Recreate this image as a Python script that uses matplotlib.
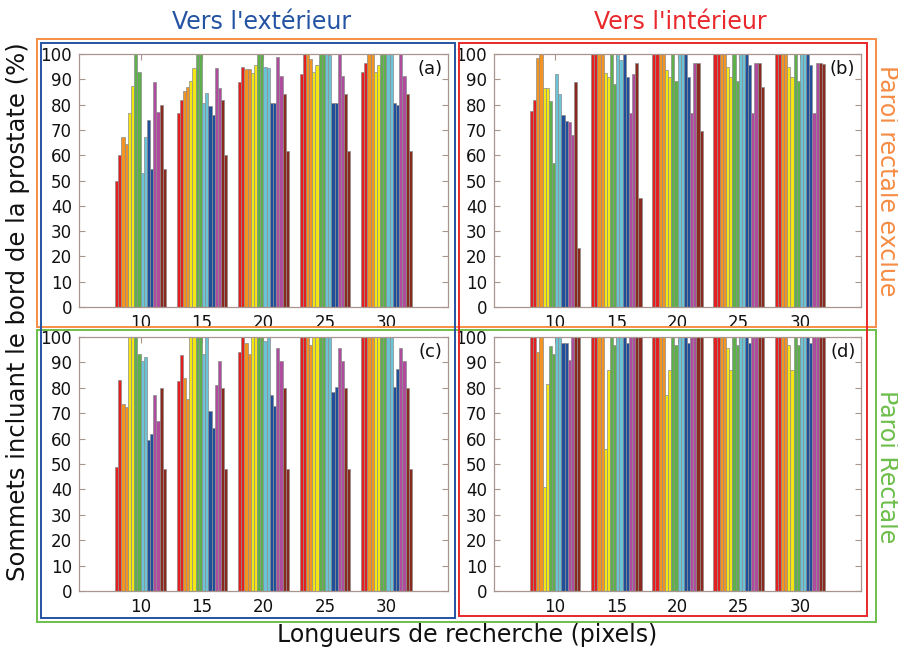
import matplotlib
matplotlib.use("Agg")
import matplotlib.pyplot as plt
from matplotlib.patches import Rectangle
import numpy as np

GROUPS = [10, 15, 20, 25, 30]

BAR_COLORS = [
    "#E3201F", "#E3201F", "#F39322", "#F39322", "#F4E615", "#F4E615",
    "#5DB04A", "#5DB04A", "#6BC4D5", "#6BC4D5", "#1F4E9A", "#1F4E9A",
    "#B04C9E", "#B04C9E", "#8A2A1F", "#8A2A1F",
]

# one row per search length, 16 bars per group
VALS_A = [
    [50, 60, 67, 64.5, 76.5, 87.5, 100, 93, 53, 67, 74, 54.5, 89, 77, 80, 54.5],
    [76.5, 82, 85.5, 87, 89.5, 94.5, 100, 100, 80.5, 84.5, 79.5, 76, 94.5, 86.5, 82, 60],
    [89, 95, 94, 94, 92.5, 95.5, 100, 100, 95, 94.5, 80.5, 80.5, 99, 91.5, 84, 61.5],
    [92, 100, 100, 98, 93, 95.5, 100, 100, 100, 99.5, 80.5, 80.5, 100, 91.5, 84, 61.5],
    [93, 96.5, 100, 100, 93, 95.5, 100, 100, 100, 100, 80.5, 80, 100, 91.5, 84, 61.5],
]
VALS_B = [
    [77.5, 82, 98.5, 100, 86.5, 86.5, 81.5, 57, 92, 84, 76, 73.5, 73, 68, 89, 23.5],
    [100, 100, 100, 100, 92.5, 91, 100, 88, 100, 97.5, 100, 91, 76.5, 92, 96.5, 43],
    [100, 100, 100, 100, 93.5, 91, 100, 89.5, 100, 100, 100, 91, 76.5, 96.5, 96.5, 69.5],
    [100, 100, 100, 100, 95, 91, 100, 89.5, 100, 100, 100, 95.5, 76.5, 96.5, 96.5, 87],
    [100, 100, 100, 100, 95, 91, 100, 89.5, 100, 100, 100, 95.5, 76.5, 96.5, 96.5, 96],
]
VALS_C = [
    [49, 83, 73.5, 72.5, 100, 100, 100, 93.5, 90.5, 92, 59.5, 62, 77, 67, 80, 48],
    [82.5, 93, 84, 75.5, 100, 100, 100, 100, 93.5, 100, 71, 64, 81, 90.5, 80, 48],
    [94, 100, 97.5, 93.5, 100, 100, 100, 100, 98.5, 100, 77, 73, 95.5, 90.5, 80, 48],
    [100, 100, 100, 97, 100, 100, 100, 100, 100, 100, 78.5, 80.5, 95.5, 90.5, 80, 48],
    [100, 100, 100, 100, 100, 100, 100, 100, 100, 100, 80.5, 87.5, 95.5, 90.5, 80, 48],
]
VALS_D = [
    [100, 100, 94, 100, 41, 81.5, 96.5, 93.5, 100, 100, 97.5, 97.5, 91, 100, 100, 100],
    [100, 100, 100, 100, 56, 87, 100, 97, 100, 100, 100, 97.5, 100, 100, 100, 100],
    [100, 100, 100, 100, 77, 87, 100, 97, 100, 100, 100, 97.5, 100, 100, 100, 100],
    [100, 100, 100, 100, 95.5, 87, 100, 97, 100, 100, 100, 97.5, 100, 100, 100, 100],
    [100, 100, 100, 100, 97, 87, 100, 97, 100, 100, 100, 97.5, 100, 100, 100, 100],
]

W, H = 898, 648
SPINE = "#A8958E"


def fx(px):
    return px / W


def fy(py):
    return 1 - py / H


def draw_panel(ax, vals, tag):
    vals = np.array(vals)
    n = vals.shape[1]
    group_w = 4.13
    bw = group_w / n
    for i in range(n):
        xs = np.array(GROUPS) - group_w / 2 + bw * (i + 0.5)
        ax.bar(xs, vals[:, i], width=bw, color=BAR_COLORS[i],
               edgecolor="#8c8c8c", linewidth=0.5, zorder=2)
    ax.set_xlim(5, 35)
    ax.set_ylim(0, 100)
    ax.set_xticks(GROUPS)
    ax.set_yticks(range(0, 101, 10))
    ax.tick_params(direction="in", top=True, right=True, length=4,
                   color=SPINE, labelsize=12, labelcolor="#111111", pad=5)
    for s in ax.spines.values():
        s.set_edgecolor(SPINE)
        s.set_linewidth(0.9)
    ax.text(0.985, 0.975, tag, transform=ax.transAxes, ha="right", va="top",
            fontsize=13, color="#111111", zorder=5)


fig = plt.figure(figsize=(W / 100, H / 100), dpi=100)
fig.patch.set_facecolor("white")

ax_a = fig.add_axes([fx(79), fy(307), fx(448 - 79), (307 - 54) / H])
ax_b = fig.add_axes([fx(494), fy(307), fx(861 - 494), (307 - 54) / H])
ax_c = fig.add_axes([fx(79), fy(591), fx(448 - 79), (591 - 337) / H])
ax_d = fig.add_axes([fx(494), fy(591), fx(861 - 494), (591 - 337) / H])

draw_panel(ax_a, VALS_A, "(a)")
draw_panel(ax_b, VALS_B, "(b)")
draw_panel(ax_c, VALS_C, "(c)")
draw_panel(ax_d, VALS_D, "(d)")


def frame(x0, y0, x1, y1, color, lw=1.4):
    fig.add_artist(Rectangle((fx(x0), fy(y1)), fx(x1 - x0), (y1 - y0) / H,
                             fill=False, edgecolor=color, linewidth=lw,
                             transform=fig.transFigure, zorder=10))


ORANGE = "#F68D45"
GREEN = "#6DBE4B"
BLUE = "#2553A3"
RED = "#E8282B"

frame(37, 39, 876, 327, ORANGE)
frame(37, 330, 876, 622, GREEN)
frame(41, 43, 455, 618, BLUE)
frame(459, 43, 867, 616, RED)

fig.text(fx(262), fy(22), "Vers l'extérieur", ha="center", va="center",
         fontsize=17, color=BLUE)
fig.text(fx(680), fy(22), "Vers l'intérieur", ha="center", va="center",
         fontsize=17, color=RED)
fig.text(fx(887), fy(181), "Paroi rectale exclue", ha="center", va="center",
         rotation=-90, fontsize=17, color=ORANGE)
fig.text(fx(887), fy(467), "Paroi Rectale", ha="center", va="center",
         rotation=-90, fontsize=17, color=GREEN)
fig.text(fx(18), fy(312), "Sommets incluant le bord de la prostate (%)",
         ha="center", va="center", rotation=90, fontsize=17.5, color="#111111")
fig.text(fx(467), fy(635), "Longueurs de recherche (pixels)",
         ha="center", va="center", fontsize=17, color="#111111")

fig.savefig("out.png", dpi=100, facecolor="white")
